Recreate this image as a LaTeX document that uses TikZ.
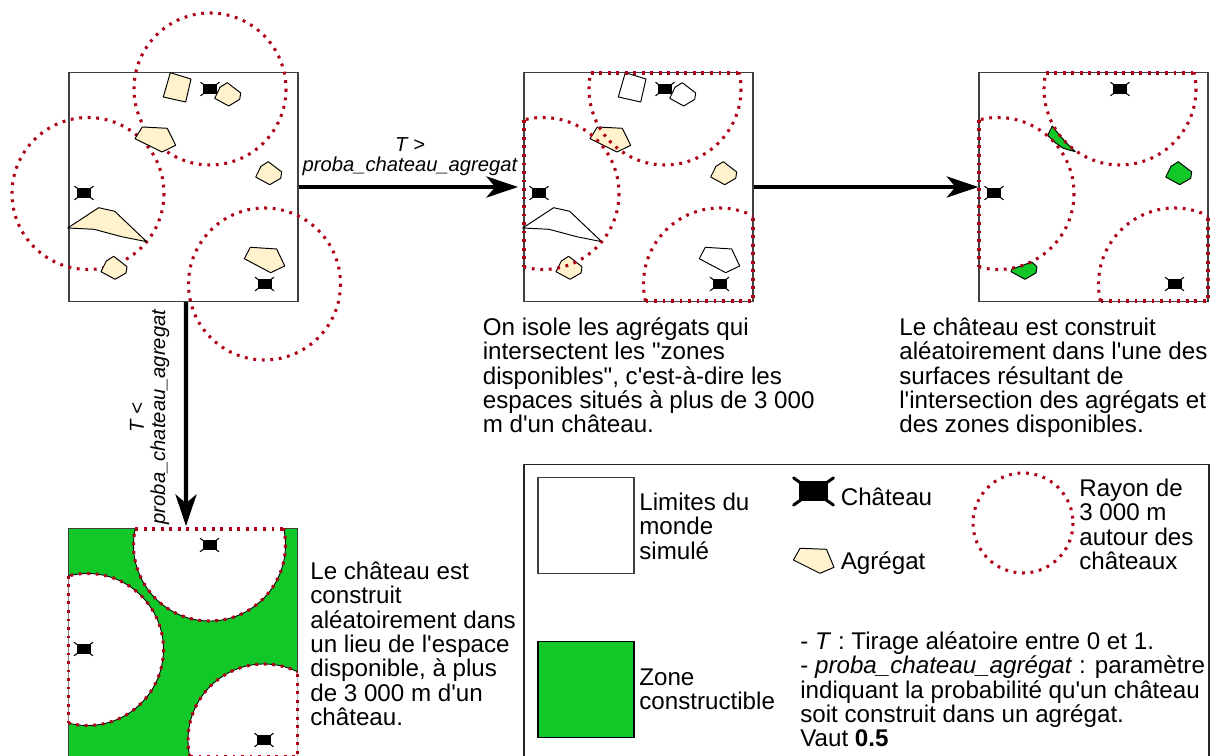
\documentclass[tikz,border=0pt]{standalone}
\usepackage{fontspec}
\setmainfont{Liberation Sans}[Ligatures=TeXOff]
\usetikzlibrary{arrows.meta}
\definecolor{creme}{RGB}{255,242,204}
\definecolor{constructible}{RGB}{17,200,40}
\definecolor{rouge}{RGB}{176,0,24}
\newcommand{\agUn}{(101.3,-0.3)--(122,6)--(116.7,29)--(94.3,24)--cycle}
\newcommand{\agDeux}{(158.3,9.7)--(171.7,20)--(170.7,26.3)--(159.7,33)--(145.7,25.3)--(151,14.3)--cycle}
\newcommand{\agTrois}{(73.3,54)--(98.3,55.3)--(106.7,72.3)--(93,79)--(66,65.7)--cycle}
\newcommand{\agQuatre}{(199.3,88.7)--(212.7,99)--(211.7,105.3)--(200.7,111.7)--(186.7,104)--(192,93.3)--cycle}
\newcommand{\agCinq}{(-1.3,155)--(29.7,134.7)--(45.7,138.3)--(77.7,168.7)--(52.7,163.7)--(25,156.3)--cycle}
\newcommand{\agSix}{(44.7,183.3)--(58,193.7)--(57,200)--(46,206.3)--(32,198.7)--(37.3,188)--cycle}
\newcommand{\agSept}{(181.3,174.3)--(207.7,176)--(215.7,193)--(201.7,199.7)--(175.3,185.7)--cycle}
\newcommand{\cercleHaut}{(141,16) circle[radius=76]}
\newcommand{\cercleGauche}{(19,120.5) circle[radius=76]}
\newcommand{\cercleDroit}{(195.5,211) circle[radius=76]}
\newcommand{\zonesrayon}{
	\begin{scope}
		\clip (0,0) rectangle (229,228);
		\draw[rayon] \cercleHaut;
		\draw[rayon] \cercleGauche;
		\draw[rayon] \cercleDroit;
	\end{scope}
	\draw[rayon] (66.7,0)--(215.3,0);
	\draw[rayon] (0,46.9)--(0,194.1);
	\draw[rayon] (121.5,228)--(229,228)--(229,142.8);
}
\tikzset{
	monde/.style={draw=black!75, line width=0.8pt, fill=white, inner sep=0pt, minimum size=4.58cm},
	agregat/.style={draw=black, line width=0.55pt, fill=creme, line join=round},
	rayon/.style={draw=rouge, line width=1.75pt, dash pattern=on 1.6pt off 3.25pt},
	fleche/.style={-{Stealth[length=18pt,width=12pt,inset=5pt]}, line width=2.3pt, draw=black},
	texte/.style={inner sep=0pt, align=left, anchor=north west, font=\fontsize{13.75}{13.85}\selectfont},
	proba/.style={inner sep=0pt, align=center, font=\fontsize{11.5}{11.5}\selectfont\itshape},
	trait/.style={line width=0.6pt},
	chateau/.pic={
		\fill[black] (-7,-5) rectangle (7,5);
		\draw[trait] (-9.5,-6.8)--(-6,-4.2) (9.5,-6.8)--(6,-4.2) (-9.5,6.8)--(-6,4.2) (9.5,6.8)--(6,4.2);
	},
}
\begin{document}
\begin{tikzpicture}[x=0.02cm, y=-0.02cm]
	\useasboundingbox (0,0) rectangle (1211,756);
	\clip (0,0) rectangle (1211,756);
\begin{scope}[shift={(69,73)}]
	\node[monde] (mondeA) at (114.5,114) {};
	\draw[rayon] \cercleHaut;
	\draw[rayon] \cercleGauche;
	\draw[rayon] \cercleDroit;
	\draw[agregat] \agUn;
	\pic (chateauA1) at (141,16) {chateau};
	\draw[agregat] \agDeux;
	\draw[agregat] \agTrois;
	\draw[agregat] \agQuatre;
	\draw[agregat] \agCinq;
	\draw[agregat] \agSix;
	\draw[agregat] \agSept;
	\pic (chateauA2) at (15,120) {chateau};
	\pic (chateauA3) at (195.5,211) {chateau};
\end{scope}
\begin{scope}[shift={(524,73)}]
	\node[monde] (mondeB) at (114.5,114) {};
	\draw[agregat,fill=white] \agUn;
	\pic (chateauB1) at (141,16) {chateau};
	\draw[agregat,fill=white] \agDeux;
	\draw[agregat] \agTrois;
	\draw[agregat] \agQuatre;
	\draw[agregat,fill=white] \agCinq;
	\draw[agregat] \agSix;
	\draw[agregat,fill=white] \agSept;
	\pic (chateauB2) at (15,120) {chateau};
	\pic (chateauB3) at (195.5,211) {chateau};
	\zonesrayon
\end{scope}
\begin{scope}[shift={(979,73)}]
	\node[monde] (mondeC) at (114.5,114) {};
	\draw[agregat,fill=constructible] (73.3,53)--(68.7,62.3)--(76,69.5)--(84.3,75.3)--(96.3,78.7)--(87.7,70.3)--(80.3,62)--cycle;
	\draw[agregat,fill=constructible] \agQuatre;
	\draw[agregat,fill=constructible] (33,196)--(32,198.7)--(46,206.3)--(57,200)--(58,193.7)--(52.7,189)--(42,193)--cycle;
	\pic (chateauC1) at (141,16) {chateau};
	\pic (chateauC2) at (15,120) {chateau};
	\pic (chateauC3) at (195.5,211) {chateau};
	\zonesrayon
\end{scope}
\begin{scope}[shift={(68.5,529)}]
	\node[monde,fill=constructible] (mondeD) at (114.5,114) {};
	\begin{scope}
		\clip (0,0) rectangle (229,228);
		\filldraw[draw=black,line width=0.5pt,fill=white] \cercleHaut;
		\filldraw[draw=black,line width=0.5pt,fill=white] \cercleGauche;
		\filldraw[draw=black,line width=0.5pt,fill=white] \cercleDroit;
	\end{scope}
	\pic (chateauD1) at (141,16) {chateau};
	\pic (chateauD2) at (15,120) {chateau};
	\pic (chateauD3) at (195.5,211) {chateau};
	\zonesrayon
\end{scope}
	\draw[fleche,shorten >=3pt] (mondeA)--(mondeB);
	\draw[fleche] (mondeB)--(mondeC);
	\draw[fleche,shorten >=1pt] ([xshift=0.05cm]mondeA.south)--([xshift=0.06cm]mondeD.north);
	\node[proba] (tirageA) at (410,145) {T >};
	\node[proba] (probaA) at (410,166) {proba\_chateau\_agregat};
	\node[proba,rotate=90] (tirageB) at (137,418) {T <};
	\node[proba,rotate=90] (probaB) at (160,417) {proba\_chateau\_agregat};
	\node[texte] (isole) at (482.5,317.5) {On isole les agrégats qui\\intersectent les "zones\\disponibles", c'est-à-dire les\\espaces situés à plus de 3 000\\m d'un château.};
	\node[texte] (construitA) at (899,317.5) {Le château est construit\\aléatoirement dans l'une des\\surfaces résultant de\\l'intersection des agrégats et\\des zones disponibles.};
	\node[texte] (construitB) at (310,561.5) {Le château est\\construit\\aléatoirement dans\\un lieu de l'espace\\disponible, à plus\\de 3 000 m d'un\\château.};
	\node[draw=black!85,line width=0.8pt,inner sep=0pt,minimum width=13.7cm,minimum height=6.5cm] (legende) at (866.5,627) {};
	\node[draw=black!75,line width=0.8pt,inner sep=0pt,minimum size=1.92cm] (legMonde) at (586,525.5) {};
	\node[texte] (legMondeT) at (639,492.5) {Limites du\\monde\\simulé};
	\pic[xscale=2.1,yscale=2,trait/.style={line width=1.7pt,line cap=round}] (legChateau) at (813.5,491.5) {chateau};
	\node[texte] (legChateauT) at (840.5,487.5) {Château};
	\draw[agregat] (800,548.3)--(826.5,549.3)--(834,567.3)--(820,573.3)--(793.4,560)--cycle;
	\node[texte] (legAgregatT) at (840.5,551.5) {Agrégat};
	\draw[rayon] (1023,523) circle[radius=50];
	\node[texte] (legRayonT) at (1079,478.5) {Rayon de\\3 000 m\\autour des\\châteaux};
	\node[draw=black,line width=0.8pt,fill=constructible,inner sep=0pt,minimum size=1.92cm] (legZone) at (586,689.5) {};
	\node[texte] (legZoneT) at (639,668.5) {Zone\\constructible};
	\node[texte] (legNote) at (800,631.5) {- \textit{T} : Tirage aléatoire entre 0 et 1.\\- \textit{proba\_chateau\_agrégat} : paramètre\\indiquant la probabilité qu'un château\\soit construit dans un agrégat.\\Vaut \textbf{0.5}};
\end{tikzpicture}
\end{document}
